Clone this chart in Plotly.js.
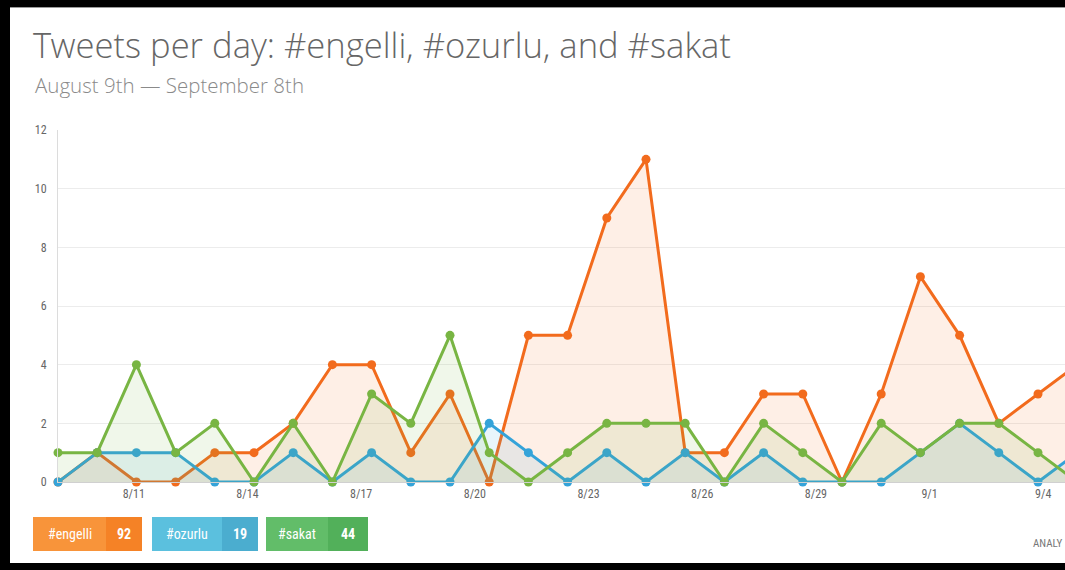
<!DOCTYPE html>
<html>
<head>
<meta charset="utf-8">
<script src="https://cdn.plot.ly/plotly-3.0.1.min.js"></script>
<style>
  html, body { margin: 0; padding: 0; background: #000; overflow: hidden; width: 1065px; height: 570px; }
  #chart { position: absolute; left: 10px; top: 7px; width: 1055px; height: 555px; background: #fff; border-top: 1px solid #9a9a9a; }
</style>
</head>
<body>
<div id="chart"></div>
<script>
// ---- data ----
const days = ['8/9','8/10','8/11','8/12','8/13','8/14','8/15','8/16','8/17','8/18',
              '8/19','8/20','8/21','8/22','8/23','8/24','8/25','8/26','8/27','8/28',
              '8/29','8/30','8/31','9/1','9/2','9/3','9/4','9/5','9/6','9/7','9/8'];
const engelli = [0,1,0,0,1,1,2,4,4,1, 3,0,5,5,9,11,1,1,3,3, 0,3,7,5,2,3,4, 3,5,2,3];
const ozurlu  = [0,1,1,1,0,0,1,0,1,0, 0,2,1,0,1,0,1,0,1,0, 0,0,1,2,1,0,1, 1,0,1,1];
const sakat   = [1,1,4,1,2,0,2,0,3,2, 5,1,0,1,2,2,2,0,2,1, 0,2,1,2,2,1,0, 1,2,0,1];
const seriesNames = ['#engelli', '#ozurlu', '#sakat'];
const totals = [92, 19, 44];
const xTickLabels = ['8/11','8/14','8/17','8/20','8/23','8/26','8/29','9/1','9/4','9/7'];
const yTicks = [0,2,4,6,8,10,12];
const titleText = 'Tweets per day: #engelli, #ozurlu, and #sakat';
const subtitleText = 'August 9th \u2014 September 8th';
const footerText = 'ANALY';

// ---- styles ----
const lineColors = ['#f26b1d', '#34a3d9', '#78b543'];
const fillColors = ['rgba(242,107,29,0.11)', 'rgba(52,163,217,0.11)', 'rgba(120,181,67,0.11)'];
const badgeLight = ['#f8943a', '#5bc0de', '#62bd69'];
const badgeDark  = ['#f58226', '#4badcf', '#52b05a'];
const narrow = 'Liberation Sans Narrow, Roboto Condensed, Roboto, Arial, sans-serif';
const light = 'Open Sans Light, Open Sans, sans-serif';

// plot area geometry (in div pixels)
const W = 1055, H = 555;
const M = {l: 48, r: 0, t: 122, b: 81};
const plotW = W - M.l - M.r, plotH = H - M.t - M.b;
const stepPx = 39.2;                 // pixels per day of the point scale
const xIdx = days.map((d, i) => i);
// tick label scale: the labels are spread over one interval fewer than the points
const tickScale = (days.length - 2) / (days.length - 1);
const tickVals = xTickLabels.map(l => days.indexOf(l) * tickScale);

// helpers: div-pixel -> paper coords
const px = x => (x - M.l) / plotW;
const py = y => (H - M.b - y) / plotH;

const all = [engelli, ozurlu, sakat];
const traces = all.map((vals, k) => ({
  x: xIdx, y: vals, name: seriesNames[k], type: 'scatter', mode: 'lines+markers',
  line: {color: lineColors[k], width: 3},
  marker: {color: lineColors[k], size: 9},
  fill: 'tozeroy', fillcolor: fillColors[k],
  cliponaxis: false, hoverinfo: 'skip', showlegend: false
}));

// badges
const badgeGeom = [
  {x0: 23, xm: 96, x1: 132},
  {x0: 142, xm: 212, x1: 248},
  {x0: 256, xm: 318, x1: 358}
];
const bTop = 509, bBot = 543;
const shapes = [];
const annotations = [];
badgeGeom.forEach((g, k) => {
  shapes.push({type: 'rect', xref: 'paper', yref: 'paper', x0: px(g.x0), x1: px(g.xm), y0: py(bBot), y1: py(bTop),
    fillcolor: badgeLight[k], line: {width: 0}, layer: 'above'});
  shapes.push({type: 'rect', xref: 'paper', yref: 'paper', x0: px(g.xm), x1: px(g.x1), y0: py(bBot), y1: py(bTop),
    fillcolor: badgeDark[k], line: {width: 0}, layer: 'above'});
  annotations.push({xref: 'paper', yref: 'paper', x: px((g.x0 + g.xm) / 2), y: py((bTop + bBot) / 2),
    text: seriesNames[k], showarrow: false, xanchor: 'center', yanchor: 'middle',
    font: {family: narrow, size: 14, color: '#fff'}});
  annotations.push({xref: 'paper', yref: 'paper', x: px((g.xm + g.x1) / 2), y: py((bTop + bBot) / 2),
    text: String(totals[k]), showarrow: false, xanchor: 'center', yanchor: 'middle',
    font: {family: narrow, size: 14, color: '#fff', weight: 700}});
});
annotations.push({xref: 'paper', yref: 'paper', x: px(23), y: py(77), text: subtitleText, showarrow: false,
  xanchor: 'left', yanchor: 'middle', font: {family: light, size: 20.5, color: '#8a8a8a', weight: 300}});
annotations.push({xref: 'paper', yref: 'paper', x: px(1021), y: py(535), text: footerText, showarrow: false,
  xanchor: 'left', yanchor: 'middle', font: {family: narrow, size: 11, color: '#777'}});

const layout = {
  width: W, height: H,
  margin: M,
  paper_bgcolor: '#fff', plot_bgcolor: '#fff',
  title: {text: titleText, xref: 'container', yref: 'container', x: 23 / W, xanchor: 'left',
    y: 1 - 38 / H, yanchor: 'middle',
    font: {family: light, size: 34.6, color: '#666', weight: 300}},
  xaxis: {range: [0, plotW / stepPx], tickvals: tickVals, ticktext: xTickLabels,
    showgrid: false, zeroline: false, showline: true, linecolor: '#d0d0d0', linewidth: 1,
    ticks: '', tickfont: {family: narrow, size: 12, color: '#666'}, ticklabelstandoff: 1, fixedrange: true},
  yaxis: {range: [0, 12], tickvals: yTicks, ticktext: yTicks.map(String),
    showgrid: true, gridcolor: '#ececec', gridwidth: 1, zeroline: false,
    showline: true, linecolor: '#dcdcdc', linewidth: 1, ticks: '',
    tickfont: {family: narrow, size: 12, color: '#666'}, ticklabelstandoff: 8, fixedrange: true},
  shapes: shapes,
  annotations: annotations,
  showlegend: false,
  hovermode: false
};

Plotly.newPlot('chart', traces, layout, {displayModeBar: false, staticPlot: true});
</script>
</body>
</html>
